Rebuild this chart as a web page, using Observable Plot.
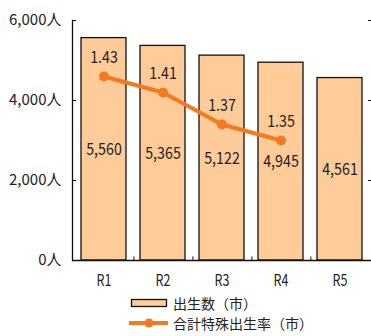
<!DOCTYPE html>
<html>
<head>
<meta charset="utf-8">
<script src="https://cdn.jsdelivr.net/npm/d3@7"></script>
<script src="https://cdn.jsdelivr.net/npm/@observablehq/plot@0.6"></script>
<style>
  body { margin: 0; background: #fff; }
  #chart { width: 371px; height: 336px; position: relative; overflow: hidden; }
  svg { font-family: "Noto Sans CJK JP", sans-serif; }
  .legend { font-family: "Noto Sans CJK JP", sans-serif; font-size: 14px; color: #222; margin-left: 129px; margin-top: 3px; }
  .legend .row { height: 20px; display: flex; align-items: center; }
  .legend svg { margin-right: 4px; }
</style>
</head>
<body>
<div id="chart"></div>
<script>
// ---- data ----
const categories = ["R1", "R2", "R3", "R4", "R5"];
const births = [5560, 5365, 5122, 4945, 4561];          // 出生数（市）
const rates = [1.43, 1.41, 1.37, 1.35, null];          // 合計特殊出生率（市）
const birthTicks = [0, 2000, 4000, 6000];
const rateDomain = [1.2, 1.5];
const birthDomain = [0, 6000];
const legendLabels = ["出生数（市）", "合計特殊出生率（市）"];

// ---- layout / style ----
const W = 371, H = 290, ML = 72, MR = 0, MT = 20, MB = 30;
const barFill = "#ffcc99", lineColor = "#f5791f", ink = "#222";
const step = (W - ML - MR) / categories.length;

const toY = r => (r - rateDomain[0]) / (rateDomain[1] - rateDomain[0]) * (birthDomain[1] - birthDomain[0]) + birthDomain[0];

const data = categories.map((c, i) => ({cat: c, births: births[i], rate: rates[i]}));
const lineData = data.filter(d => d.rate != null);

const chart = Plot.plot({
  width: W, height: H,
  marginLeft: ML, marginRight: MR, marginTop: MT, marginBottom: MB,
  x: {domain: categories, paddingInner: 0.23, paddingOuter: 0.115, label: null},
  y: {domain: birthDomain, label: null},
  style: {fontSize: "15px", color: ink, background: "white"},
  marks: [
    Plot.barY(data, {x: "cat", y: "births", fill: barFill, stroke: "#111", strokeWidth: 1.3}),
    Plot.ruleX(categories.slice(0, -1), {x: d => d, dx: step / 2, y1: 0, y2: 90, stroke: "#111"}),
    Plot.ruleY([0], {stroke: "#111", strokeWidth: 1.3}),
    Plot.frame({anchor: "left", stroke: "#111", strokeWidth: 1.3}),
    Plot.axisY({ticks: birthTicks, tickSize: -4, tickPadding: 15, tickFormat: d => d3.format(",")(d) + "人",
      fontSize: 15, letterSpacing: 0.5, stroke: "#111"}),
    Plot.axisY({anchor: "right", ticks: birthTicks, tickSize: -4, tickFormat: () => "", stroke: "#111"}),
    Plot.axisX({tickSize: 0, tickPadding: 14, fontSize: 16}),
    Plot.text(data, {x: "cat", y: d => d.births / 2, text: d => d3.format(",")(d.births),
      fontSize: 17, letterSpacing: 1, fill: ink}),
    Plot.line(lineData, {x: "cat", y: d => toY(d.rate), stroke: lineColor, strokeWidth: 4}),
    Plot.dot(lineData, {x: "cat", y: d => toY(d.rate), r: 5, fill: lineColor}),
    Plot.text(lineData, {x: "cat", y: d => toY(d.rate), text: d => d.rate.toFixed(2), dy: -19,
      fontSize: 17, letterSpacing: 1, fill: ink})
  ]
});

// narrow (condensed) look of the original lettering
chart.querySelectorAll('g[aria-label="text"] text').forEach(t => {
  t.setAttribute("transform", (t.getAttribute("transform") || "") + " scale(0.84,1)");
});
chart.querySelectorAll('g[aria-label="x-axis tick label"] text').forEach(t => {
  t.setAttribute("transform", (t.getAttribute("transform") || "") + " scale(0.78,1)");
});

const root = document.getElementById("chart");
root.appendChild(chart);

const legend = document.createElement("div");
legend.className = "legend";
legend.innerHTML = `
  <div class="row"><svg width="40" height="10"><rect x="2.5" y="1.5" width="35" height="7" fill="${barFill}" stroke="#111" stroke-width="1.3"/></svg><span>${legendLabels[0]}</span></div>
  <div class="row"><svg width="40" height="10"><line x1="0" y1="5" x2="39" y2="5" stroke="${lineColor}" stroke-width="4"/><circle cx="20" cy="5" r="4.5" fill="${lineColor}"/></svg><span>${legendLabels[1]}</span></div>`;
root.appendChild(legend);
</script>
</body>
</html>
